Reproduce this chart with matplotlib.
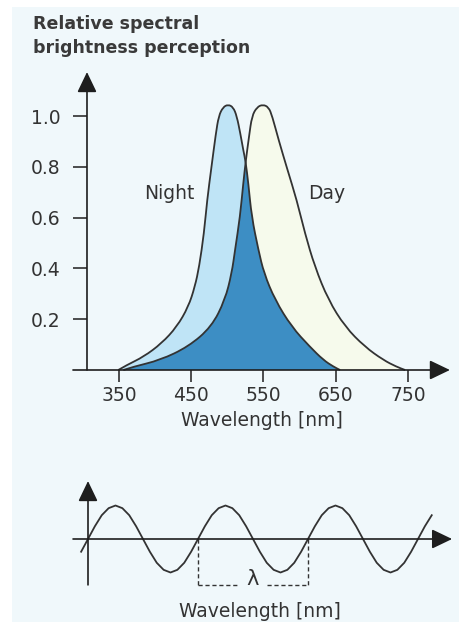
import numpy as np
import matplotlib
matplotlib.use("Agg")
import matplotlib.pyplot as plt
from matplotlib.patches import Rectangle, PathPatch
from matplotlib.path import Path

# --- data ---
night_nm = [349, 361, 384, 409, 430, 446, 455, 461, 467.6, 472, 478, 484, 488, 494, 501,
            508, 513, 518, 522, 525.3, 529, 533.6, 543, 550.7, 566, 589, 614, 633, 647, 656]
night_val = [0.0, 0.02, 0.052, 0.105, 0.170, 0.249, 0.328, 0.407, 0.538, 0.669, 0.80, 0.93,
             1.0, 1.035, 1.045, 1.035, 1.0, 0.93, 0.866, 0.82, 0.735, 0.604, 0.472, 0.381,
             0.276, 0.170, 0.092, 0.039, 0.013, 0.0]
day_nm = [356, 370, 407, 446, 478, 496.7, 506, 510.6, 517.5, 522, 525.3, 530, 534, 541, 549,
          557, 562, 571, 583, 596, 607.4, 621, 639.7, 663, 690, 716, 734, 746]
day_val = [0.0, 0.013, 0.039, 0.092, 0.170, 0.276, 0.381, 0.472, 0.604, 0.735, 0.82, 0.92,
           1.0, 1.035, 1.045, 1.035, 1.0, 0.905, 0.79, 0.669, 0.538, 0.407, 0.276, 0.170,
           0.092, 0.039, 0.013, 0.0]
x_ticks = [350, 450, 550, 650, 750]
y_ticks = [0.2, 0.4, 0.6, 0.8, 1.0]
y_tick_labels = ["0.2", "0.4", "0.6", "0.8", "1.0"]

# one period of the wave (16 samples), repeated along the lower sketch
wave_profile = [0, 0.38, 0.71, 0.92, 1, 0.92, 0.71, 0.38,
                0, -0.38, -0.71, -0.92, -1, -0.92, -0.71, -0.38]

W, H = 460, 622
INK = "#333333"
AXC = "#1e1e1e"
C_NIGHT = "#bfe4f6"
C_DAY = "#f6faec"
C_BOTH = "#3d8ec4"
C_BG = "#f0f8fb"
FS = 13.5

fig = plt.figure(figsize=(W / 100, H / 100), dpi=100)
fig.patch.set_facecolor("white")
fig.patches.append(Rectangle((12 / W, 0), 1, 1 - 7 / H, transform=fig.transFigure,
                             facecolor=C_BG, edgecolor="none", zorder=-10))


def rect_for(xlim, ylim, x0px, x0, sx, y0px, y0, sy):
    l = x0px + (xlim[0] - x0) * sx
    r = x0px + (xlim[1] - x0) * sx
    t = y0px - (ylim[1] - y0) * sy
    b = y0px - (ylim[0] - y0) * sy
    return [l / W, 1 - b / H, (r - l) / W, (b - t) / H]


def smooth_path(xs, ys, closed=False):
    # quadratic curve through the read points (points act as control points)
    pts = np.column_stack([xs, ys]).astype(float)
    verts = [pts[0]]
    codes = [Path.MOVETO]
    for i in range(1, len(pts) - 1):
        verts += [pts[i], (pts[i] + pts[i + 1]) / 2]
        codes += [Path.CURVE3, Path.CURVE3]
    verts.append(pts[-1])
    codes.append(Path.LINETO)
    if closed:
        verts.append(pts[0])
        codes.append(Path.CLOSEPOLY)
    return Path(verts, codes)


arrow = dict(arrowstyle="-|>,head_length=1.25,head_width=0.6", color=AXC, lw=1.2,
             shrinkA=0, shrinkB=0, mutation_scale=10)

# ---------------- top chart ----------------
xlim, ylim = (280, 815), (-0.2, 1.25)
ax = fig.add_axes(rect_for(xlim, ylim, 119, 350, 0.7225, 370, 0, 254))
ax.set_xlim(*xlim)
ax.set_ylim(*ylim)
ax.patch.set_visible(False)

night_fill = smooth_path(night_nm, night_val, closed=True)
day_fill = smooth_path(day_nm, day_val, closed=True)
ax.add_patch(PathPatch(day_fill, facecolor=C_DAY, edgecolor="none", zorder=1))
ax.add_patch(PathPatch(night_fill, facecolor=C_NIGHT, edgecolor="none", zorder=2))
both = PathPatch(night_fill, facecolor=C_BOTH, edgecolor="none", zorder=3)
ax.add_patch(both)
clip = PathPatch(day_fill, transform=ax.transData, facecolor="none", edgecolor="none")
ax.add_patch(clip)
both.set_clip_path(clip)
ax.add_patch(PathPatch(smooth_path(night_nm, night_val), facecolor="none",
                       edgecolor=INK, lw=1.3, zorder=4))
ax.add_patch(PathPatch(smooth_path(day_nm, day_val), facecolor="none",
                       edgecolor=INK, lw=1.3, zorder=4))

for s in ax.spines.values():
    s.set_visible(False)
ax.spines["left"].set_position(("data", 305.7))
ax.spines["bottom"].set_position(("data", 0))
ax.annotate("", xy=(305.7, 1.173), xytext=(305.7, 0), arrowprops=arrow, zorder=5)
ax.annotate("", xy=(808, 0), xytext=(286.3, 0), arrowprops=arrow, zorder=5)

ax.set_xticks(x_ticks)
ax.set_xticklabels([str(v) for v in x_ticks])
ax.set_yticks(y_ticks)
ax.set_yticklabels(y_tick_labels)
ax.tick_params(axis="y", length=10, width=1.1, color=AXC, pad=9, labelsize=FS, labelcolor=INK)
ax.tick_params(axis="x", length=8.5, width=1.1, color=AXC, pad=3, labelsize=FS, labelcolor=INK)
ax.set_xlabel("Wavelength [nm]", fontsize=FS, color=INK, labelpad=4)

ax.text(419, 0.695, "Night", fontsize=FS, color=INK, ha="center", va="center")
ax.text(638, 0.695, "Day", fontsize=FS, color=INK, ha="center", va="center")

fig.text(33 / W, 1 - 29 / H, "Relative spectral", fontsize=12.5, weight="bold",
         color="#3a3a3a", va="baseline")
fig.text(33 / W, 1 - 53 / H, "brightness perception", fontsize=12.5, weight="bold",
         color="#3a3a3a", va="baseline")

# ---------------- bottom sketch ----------------
xlim2, ylim2 = (-0.25, 3.4), (-2.5, 2.0)
ax2 = fig.add_axes(rect_for(xlim2, ylim2, 88, 0, 110, 539, 0, 33.5))
ax2.set_xlim(*xlim2)
ax2.set_ylim(*ylim2)
ax2.axis("off")

k = np.arange(-1, 51)
wave_x = k / 16
wave_y = np.array(wave_profile)[k % 16]
ax2.plot(wave_x, wave_y, color=INK, lw=1.3, zorder=3, solid_joinstyle="round")
ax2.annotate("", xy=(0, 1.73), xytext=(0, -1.37), arrowprops=arrow, zorder=4)
ax2.annotate("", xy=(3.31, 0), xytext=(-0.136, 0), arrowprops=arrow, zorder=4)

dash = dict(color=INK, lw=1.0, linestyle=(0, (3, 2)))
yb = -1.36
ax2.plot([1, 1], [0, yb], **dash)
ax2.plot([2, 2], [0, yb], **dash)
ax2.plot([1, 1.37], [yb, yb], **dash)
ax2.plot([1.63, 2], [yb, yb], **dash)
ax2.text(1.5, yb, "λ", fontsize=15, color=INK, ha="center", va="baseline")
ax2.text(1.56, -2.33, "Wavelength [nm]", fontsize=FS, color=INK, ha="center", va="baseline")

fig.savefig("out.png", dpi=100, facecolor=fig.get_facecolor())
